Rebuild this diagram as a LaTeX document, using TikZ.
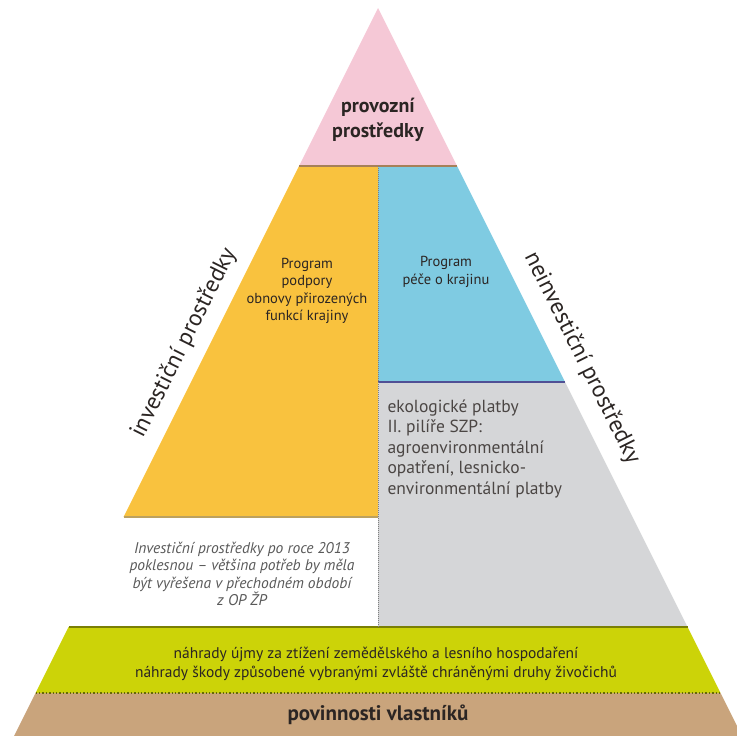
\documentclass[tikz,border=0pt]{standalone}
\usepackage{fontspec}
\setmainfont{PT Sans}
\definecolor{pinkfill}{HTML}{F5C8D6}
\definecolor{yellowfill}{HTML}{F9C23E}
\definecolor{bluefill}{HTML}{7FCBE2}
\definecolor{grayfill}{HTML}{D5D6D8}
\definecolor{greenfill}{HTML}{CCD308}
\definecolor{brownfill}{HTML}{C9A47C}
\definecolor{textdark}{HTML}{2B2523}

\begin{document}
\begin{tikzpicture}[x=1pt,y=-1pt,text=textdark,
  side label/.style={font=\fontsize{23.5}{26}\selectfont},
  box label/.style={align=center,font=\fontsize{14.5}{17.5}\selectfont},
  sep line/.style={line width=1.5pt}]
\useasboundingbox (0,0) rectangle (737,736);

\coordinate (apex) at (378,8);
\coordinate (pinkL) at (299,166);
\coordinate (pinkR) at (457,166);
\coordinate (midtop) at (378,166);
\coordinate (blueR) at (565,382);
\coordinate (midblue) at (378,382);
\coordinate (yelL) at (123.5,517);
\coordinate (midyel) at (378,517);
\coordinate (greenL) at (68.5,627);
\coordinate (greenR) at (687.5,627);
\coordinate (midgreen) at (378,627);
\coordinate (brownL) at (35.5,693);
\coordinate (brownR) at (720.5,693);
\coordinate (baseL) at (14,736);
\coordinate (baseR) at (742,736);

% areas
\fill[pinkfill] (apex) -- (pinkR) -- (pinkL) -- cycle;
\fill[yellowfill] (pinkL) -- (midtop) -- (midyel) -- (yelL) -- cycle;
\fill[bluefill] (midtop) -- (pinkR) -- (blueR) -- (midblue) -- cycle;
\fill[grayfill] (midblue) -- (blueR) -- (greenR) -- (midgreen) -- cycle;
\fill[greenfill] (greenL) -- (greenR) -- (brownR) -- (brownL) -- cycle;
\fill[brownfill] (brownL) -- (brownR) -- (baseR) -- (baseL) -- cycle;

% borders
\draw[sep line,color=brown!60!gray] (pinkL) -- (pinkR);
\draw[sep line,color=blue!30!gray!90!black] (midblue) -- (blueR);
\draw[sep line,color=yellowfill!50!gray] (yelL) -- (midyel);
\draw[sep line,color=greenfill!60!black] (greenL) -- (greenR);
\draw[line width=1.4pt,dotted,color=greenfill!50!black] (brownL) -- (brownR);
\draw[line width=1pt,densely dotted,color=gray] (midtop) -- (midgreen);

% texts
\node[font=\fontsize{20}{25}\selectfont\bfseries,align=center] (provozni) at (378,120) {provozní\\prostředky};
\node[side label,rotate=63.43] (invest) at (184,343) {investiční prostředky};
\node[side label,rotate=-63.43] (neinvest) at (582,358) {neinvestiční prostředky};
\node[box label] (ppof) at (307,291) {Program\\podpory\\obnovy přirozených\\funkcí krajiny};
\node[box label] (ppk) at (446,272) {Program\\péče o krajinu};
\node[align=left,anchor=north west,font=\fontsize{17.5}{20.5}\selectfont,text=textdark!85] (eko) at (384,396) {ekologické platby\\II. pilíře SZP:\\agroenvironmentální\\opatření, lesnicko-\\environmentální platby};
\node[align=center,font=\fontsize{15.5}{17.5}\selectfont\itshape,text=gray!70!black] (pokles) at (242,574) {Investiční prostředky po roce 2013\\poklesnou – většina potřeb by měla\\být vyřešena v přechodném období\\z OP ŽP};
\node[align=center,font=\fontsize{15.5}{19}\selectfont] (nahrady) at (376,664) {náhrady újmy za ztížení zemědělského a lesního hospodaření\\náhrady škody způsobené vybranými zvláště chráněnými druhy živočichů};
\node[font=\fontsize{21}{22}\selectfont\bfseries] (povinnosti) at (378,715) {povinnosti vlastníků};
\end{tikzpicture}
\end{document}
